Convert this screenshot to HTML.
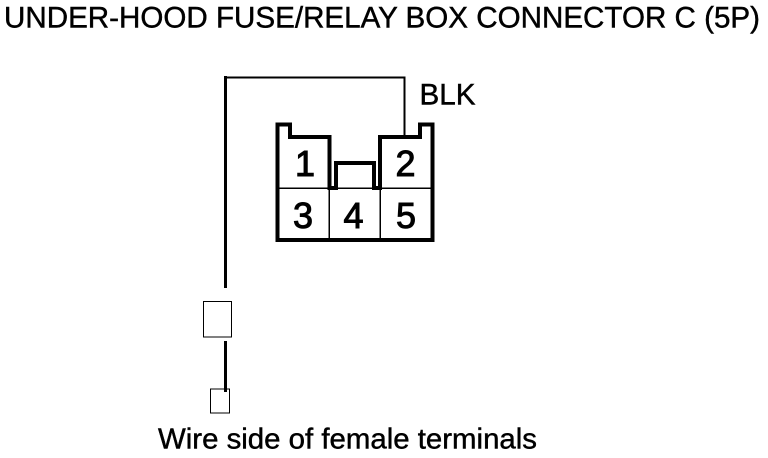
<!DOCTYPE html>
<html>
<head>
<meta charset="utf-8">
<style>
html,body{margin:0;padding:0;background:#fff;}
svg{display:block;}
text{font-family:"Liberation Sans",sans-serif;fill:#000;stroke:#000;stroke-width:0.45px;}
.d text{stroke-width:1px;}
</style>
</head>
<body>
<svg width="768" height="458" viewBox="0 0 768 458" xmlns="http://www.w3.org/2000/svg">
<rect width="768" height="458" fill="#fff"/>
<text x="4" y="27.5" font-size="30" textLength="756" lengthAdjust="spacingAndGlyphs">UNDER-HOOD FUSE/RELAY BOX CONNECTOR C (5P)</text>
<text x="419.5" y="104.3" font-size="29.5" textLength="56" lengthAdjust="spacingAndGlyphs">BLK</text>
<text x="158" y="448.3" font-size="29" textLength="379" lengthAdjust="spacingAndGlyphs">Wire side of female terminals</text>

<g fill="none" stroke="#000" shape-rendering="crispEdges">
<path d="M225.5 76V288M225.5 341V392" stroke-width="3"/>
<path d="M224 77.5H405.5M404.5 77V136" stroke-width="2"/>
<path d="M277.5 188H432.5M329 188V240M380 188V240" stroke-width="1.5"/>
<path d="M277.5 240V124.5H290V137H329.5V188H336V163H374V188H380V137H420V124.5H432.5V240Z" stroke-width="4"/>
<rect x="203.5" y="301.5" width="28" height="35.5" stroke-width="1"/>
<rect x="210.5" y="389" width="19" height="24" stroke-width="1"/>
</g>
<path d="M224 341h3v51h-3z" fill="#000"/>

<g class="d" font-size="36" text-anchor="middle">
<text x="305" y="176">1</text>
<text x="405.5" y="176">2</text>
<text x="303" y="228">3</text>
<text x="353.5" y="228">4</text>
<text x="406" y="228">5</text>
</g>
</svg>
</body>
</html>
